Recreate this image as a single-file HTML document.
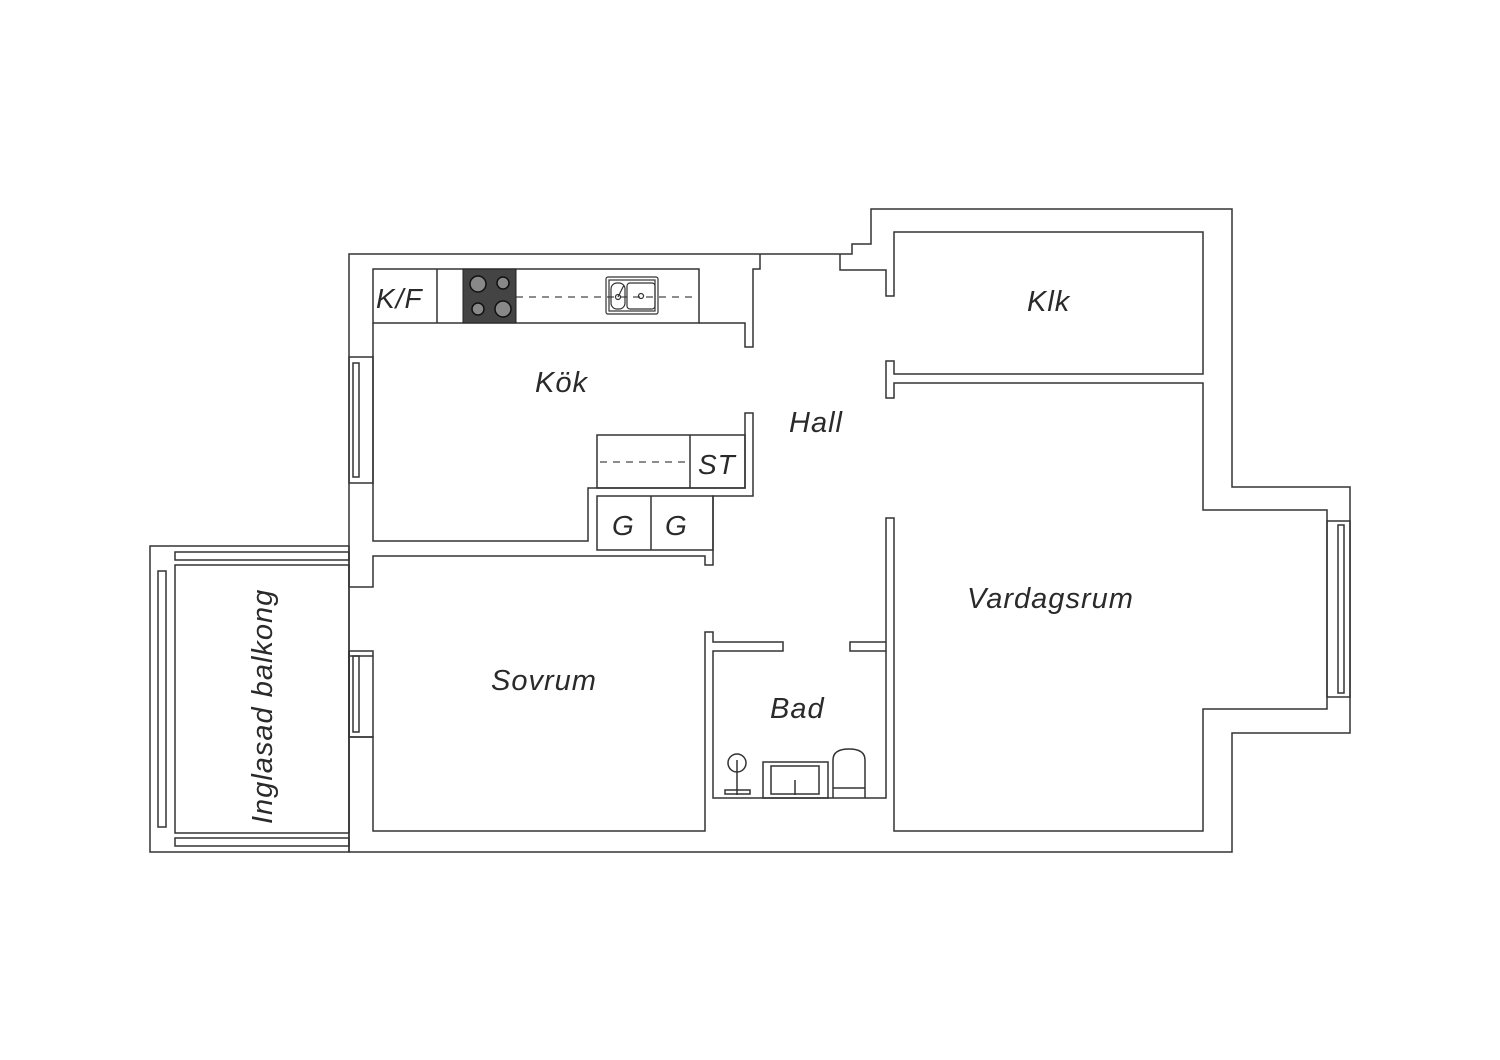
<!DOCTYPE html>
<html><head><meta charset="utf-8"><style>
html,body{margin:0;padding:0;background:#fff;}
svg{display:block}
text{font-family:"Liberation Sans",sans-serif;font-style:italic;fill:#2a2a2a;}
</style></head><body>
<svg width="1500" height="1060" viewBox="0 0 1500 1060" xmlns="http://www.w3.org/2000/svg">
<g fill="none" stroke="#333" stroke-width="1.5">
<polyline points="349,587 349,254 760,254"/>
<polyline points="760,254 852,254 852,244 871,244 871,209 1232,209 1232,487 1350,487 1350,733 1232,733 1232,852 349,852 349,737"/>
<line x1="349" y1="651" x2="349" y2="737"/>
<polyline points="760,254 760,269 753,269 753,347 745,347 745,323 699,323"/>
<rect x="373" y="269" width="326" height="54"/>
<line x1="437" y1="269" x2="437" y2="323"/>
<polyline points="373,323 373,541 588,541 588,488 745,488 745,413 753,413 753,496 713,496 713,565 705,565 705,556 373,556 373,587 349,587"/>
<rect x="597" y="435" width="148" height="53"/>
<line x1="690" y1="435" x2="690" y2="488"/>
<line x1="600" y1="462" x2="688" y2="462" stroke-dasharray="7,6" stroke="#666"/>
<rect x="597" y="496" width="116" height="54"/>
<line x1="651" y1="496" x2="651" y2="550"/>
<line x1="516" y1="297" x2="699" y2="297" stroke-dasharray="7,6" stroke="#666"/>
<rect x="349" y="357" width="24" height="126"/>
<rect x="353" y="363" width="6" height="114"/>
<polyline points="840,254 840,270 886,270 886,296 894,296 894,232 1203,232 1203,374 894,374 894,361 886,361 886,398 894,398 894,383 1203,383 1203,510 1327,510 1327,709 1203,709 1203,831 894,831 894,518 886,518 886,651 850,651 850,642 886,642"/>
<rect x="1327" y="521" width="23" height="176"/>
<rect x="1338" y="525" width="6" height="168"/>
<polyline points="886,651 886,798 713,798 713,651 783,651 783,642 713,642 713,632 705,632 705,831 373,831 373,737 349,737"/>
<rect x="349" y="651" width="24" height="86"/>
<rect x="353" y="656" width="6" height="76"/>
<line x1="349" y1="656" x2="373" y2="656"/>
<rect x="150" y="546" width="199" height="306"/>
<rect x="175" y="565" width="174" height="268"/>
<rect x="175" y="552" width="174" height="8"/>
<rect x="175" y="838" width="174" height="8"/>
<rect x="158" y="571" width="8" height="256"/>
<circle cx="737" cy="763" r="9"/>
<line x1="737" y1="760" x2="737" y2="795"/>
<rect x="725" y="790" width="25" height="4"/>
<rect x="763" y="762" width="65" height="36"/>
<rect x="771" y="766" width="48" height="28"/>
<line x1="795" y1="780" x2="795" y2="795"/>
<path d="M833,798 V760 Q833,749 849,749 Q865,749 865,760 V798"/>
<line x1="833" y1="788" x2="865" y2="788"/>
</g>
<rect x="463" y="269" width="53" height="54" fill="#444" stroke="#222"/>
<g fill="#888" stroke="#111" stroke-width="1.5">
<circle cx="478" cy="284" r="8"/><circle cx="503" cy="283" r="6"/>
<circle cx="478" cy="309" r="6"/><circle cx="503" cy="309" r="8"/>
</g>
<g fill="none" stroke="#333" stroke-width="1.2">
<rect x="606" y="277" width="52" height="37" rx="2"/>
<rect x="609" y="280" width="46" height="31"/>
<rect x="611" y="283" width="14" height="26" rx="6"/>
<rect x="627" y="283" width="28" height="26" rx="3"/>
<circle cx="618" cy="297" r="2.5"/><circle cx="641" cy="296" r="2.5"/>
<line x1="618" y1="297" x2="624" y2="285"/>
</g>
<g font-size="29" letter-spacing="1">
<text x="376" y="308" font-size="28">K/F</text>
<text x="698" y="474" font-size="28">ST</text>
<text x="612" y="535" font-size="28">G</text>
<text x="665" y="535" font-size="28">G</text>
<text x="535" y="392">Kök</text>
<text x="789" y="432">Hall</text>
<text x="1027" y="311">Klk</text>
<text x="967" y="608">Vardagsrum</text>
<text x="491" y="690">Sovrum</text>
<text x="770" y="718">Bad</text>
<text transform="translate(272,824) rotate(-90)">Inglasad balkong</text>
</g>
</svg>
</body></html>
